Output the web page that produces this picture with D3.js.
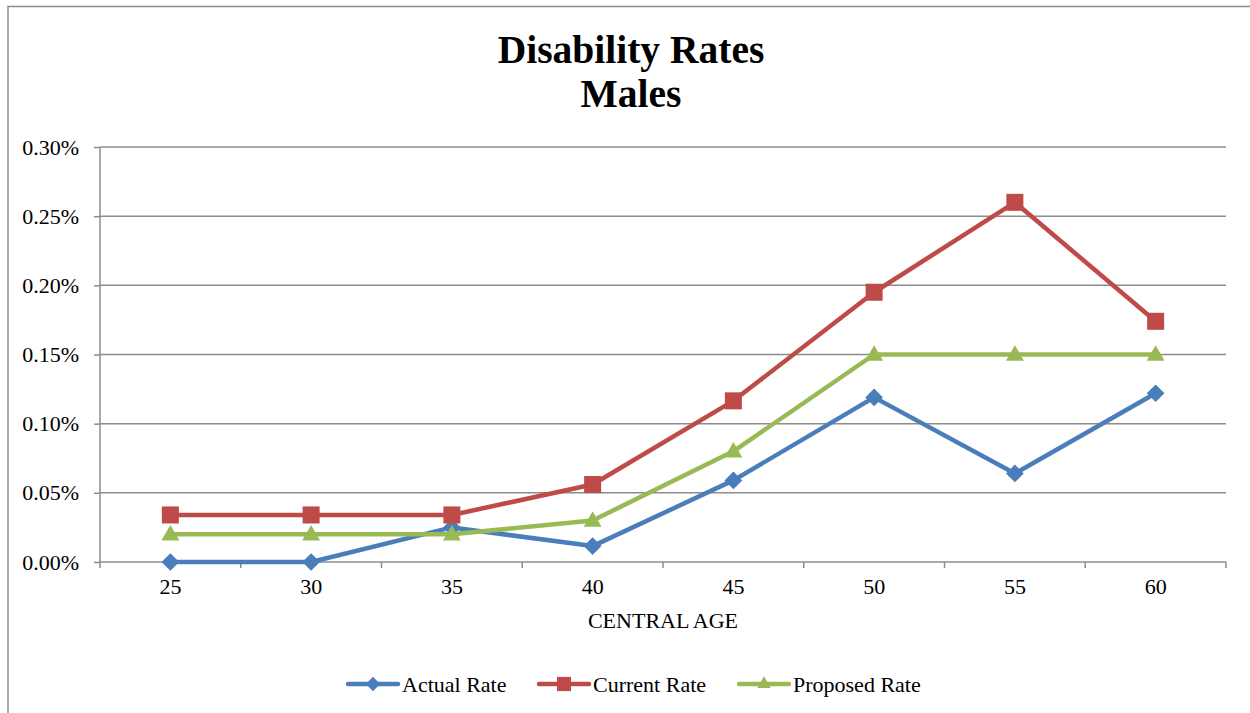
<!DOCTYPE html>
<html><head><meta charset="utf-8">
<script src="https://cdn.jsdelivr.net/npm/d3@7"></script>
<style>body{margin:0;background:#fff}svg{display:block}</style>
</head><body>
<svg id="c" width="1250" height="713"></svg>
<script>
const categories = ["25","30","35","40","45","50","55","60"];
const actualRate = [0.0000, 0.0000, 0.0250, 0.0115, 0.0590, 0.1190, 0.0640, 0.1220];
const currentRate = [0.0340, 0.0340, 0.0340, 0.0560, 0.1165, 0.1950, 0.2600, 0.1740];
const proposedRate = [0.0200, 0.0200, 0.0200, 0.0300, 0.0800, 0.1500, 0.1500, 0.1500];
const yTicks = [0, 0.05, 0.10, 0.15, 0.20, 0.25, 0.30];
const seriesNames = ["Actual Rate", "Current Rate", "Proposed Rate"];
const titleLines = ["Disability Rates", "Males"];
const xTitle = "CENTRAL AGE";

const colors = ["#4a7ebb", "#be4b48", "#98b954"];
const series = [
  {name: seriesNames[0], values: actualRate, color: colors[0], sym: "diamond"},
  {name: seriesNames[1], values: currentRate, color: colors[1], sym: "square"},
  {name: seriesNames[2], values: proposedRate, color: colors[2], sym: "triangle"}
];

const svg = d3.select("#c");
const font = "'Liberation Serif','Times New Roman',serif";
const fs = 22;
const L = 100, R = 1226, T = 147, B = 562;

// outer border
svg.append("rect").attr("x", 8).attr("y", 6.5).attr("width", 1260).attr("height", 720)
  .attr("fill", "none").attr("stroke", "#8c8c8c").attr("stroke-width", 1.5);

// title
svg.append("text").attr("x", 631).attr("y", 63).attr("text-anchor", "middle")
  .attr("font-family", font).attr("font-weight", "bold").attr("font-size", 39.5).text(titleLines[0]);
svg.append("text").attr("x", 631).attr("y", 107).attr("text-anchor", "middle")
  .attr("font-family", font).attr("font-weight", "bold").attr("font-size", 39.5).text(titleLines[1]);

const x = d3.scaleBand().domain(categories).range([L, R]).padding(0);
const y = d3.scaleLinear().domain([0, 0.30]).range([B, T]);

// gridlines
svg.append("g").selectAll("line").data(yTicks.slice(1)).join("line")
  .attr("x1", L).attr("x2", R).attr("y1", d => y(d)).attr("y2", d => y(d))
  .attr("stroke", "#8c8c8c").attr("stroke-width", 1.5);

// y axis
const yAxis = svg.append("g").attr("transform", `translate(${L},0)`)
  .call(d3.axisLeft(y).tickValues(yTicks).tickSize(6).tickPadding(15)
    .tickFormat(d => d.toFixed(2) + "%"));
yAxis.select(".domain").attr("stroke", "#8c8c8c").attr("stroke-width", 1.5).attr("d", `M0,${T}V${B}`);
yAxis.selectAll(".tick line").attr("stroke", "#8c8c8c").attr("stroke-width", 1.5);
yAxis.selectAll("text").attr("font-family", font).attr("font-size", fs).attr("fill", "#000");

// x axis
const xAxis = svg.append("g").attr("transform", `translate(0,${B})`)
  .call(d3.axisBottom(x).tickSize(0).tickPadding(16));
xAxis.select(".domain").attr("stroke", "#8c8c8c").attr("stroke-width", 1.5).attr("d", `M${L},0H${R}`);
xAxis.selectAll("text").attr("font-family", font).attr("font-size", fs).attr("fill", "#000");
const bounds = categories.map(c => x(c)).concat([R]);
xAxis.selectAll("line.sep").data(bounds).join("line").attr("class", "sep")
  .attr("x1", d => d).attr("x2", d => d).attr("y1", 0).attr("y2", 6)
  .attr("stroke", "#8c8c8c").attr("stroke-width", 1.5);

svg.append("text").attr("x", (L + R) / 2).attr("y", 628).attr("text-anchor", "middle")
  .attr("font-family", font).attr("font-size", fs).text(xTitle);

const cx = c => x(c) + x.bandwidth() / 2;
const symGen = {
  diamond: d3.symbol().type(d3.symbolDiamond2).size(200),
  square: d3.symbol().type(d3.symbolSquare).size(290),
  triangle: d3.symbol().type(d3.symbolTriangle2).size(230)
};
const line = d3.line();

series.forEach(s => {
  svg.append("path").attr("d", line(categories.map((c, i) => [cx(c), y(s.values[i])])))
    .attr("fill", "none").attr("stroke", s.color).attr("stroke-width", 4.5).attr("stroke-linejoin", "round");
});
series.forEach(s => {
  svg.append("g").selectAll("path").data(categories).join("path")
    .attr("transform", (c, i) => `translate(${cx(c)},${y(s.values[i]) + (s.sym === "triangle" ? 1 : 0)})`)
    .attr("d", symGen[s.sym]()).attr("fill", s.color);
});

// legend
const legX = [347, 538, 738];
const leg = svg.append("g");
series.forEach((s, i) => {
  const g = leg.append("g").attr("transform", `translate(${legX[i]},684)`);
  g.append("line").attr("x1", 1).attr("x2", 51).attr("stroke", s.color).attr("stroke-width", 4.5).attr("stroke-linecap", "round");
  g.append("path").attr("transform", "translate(26,0)")
    .attr("d", d3.symbol().type(s.sym === "diamond" ? d3.symbolDiamond2 : s.sym === "square" ? d3.symbolSquare : d3.symbolTriangle2)
      .size(s.sym === "square" ? 200 : 130)()).attr("fill", s.color);
  g.append("text").attr("x", 55).attr("y", 8).attr("font-family", font).attr("font-size", fs).text(s.name);
});
</script>
</body></html>
